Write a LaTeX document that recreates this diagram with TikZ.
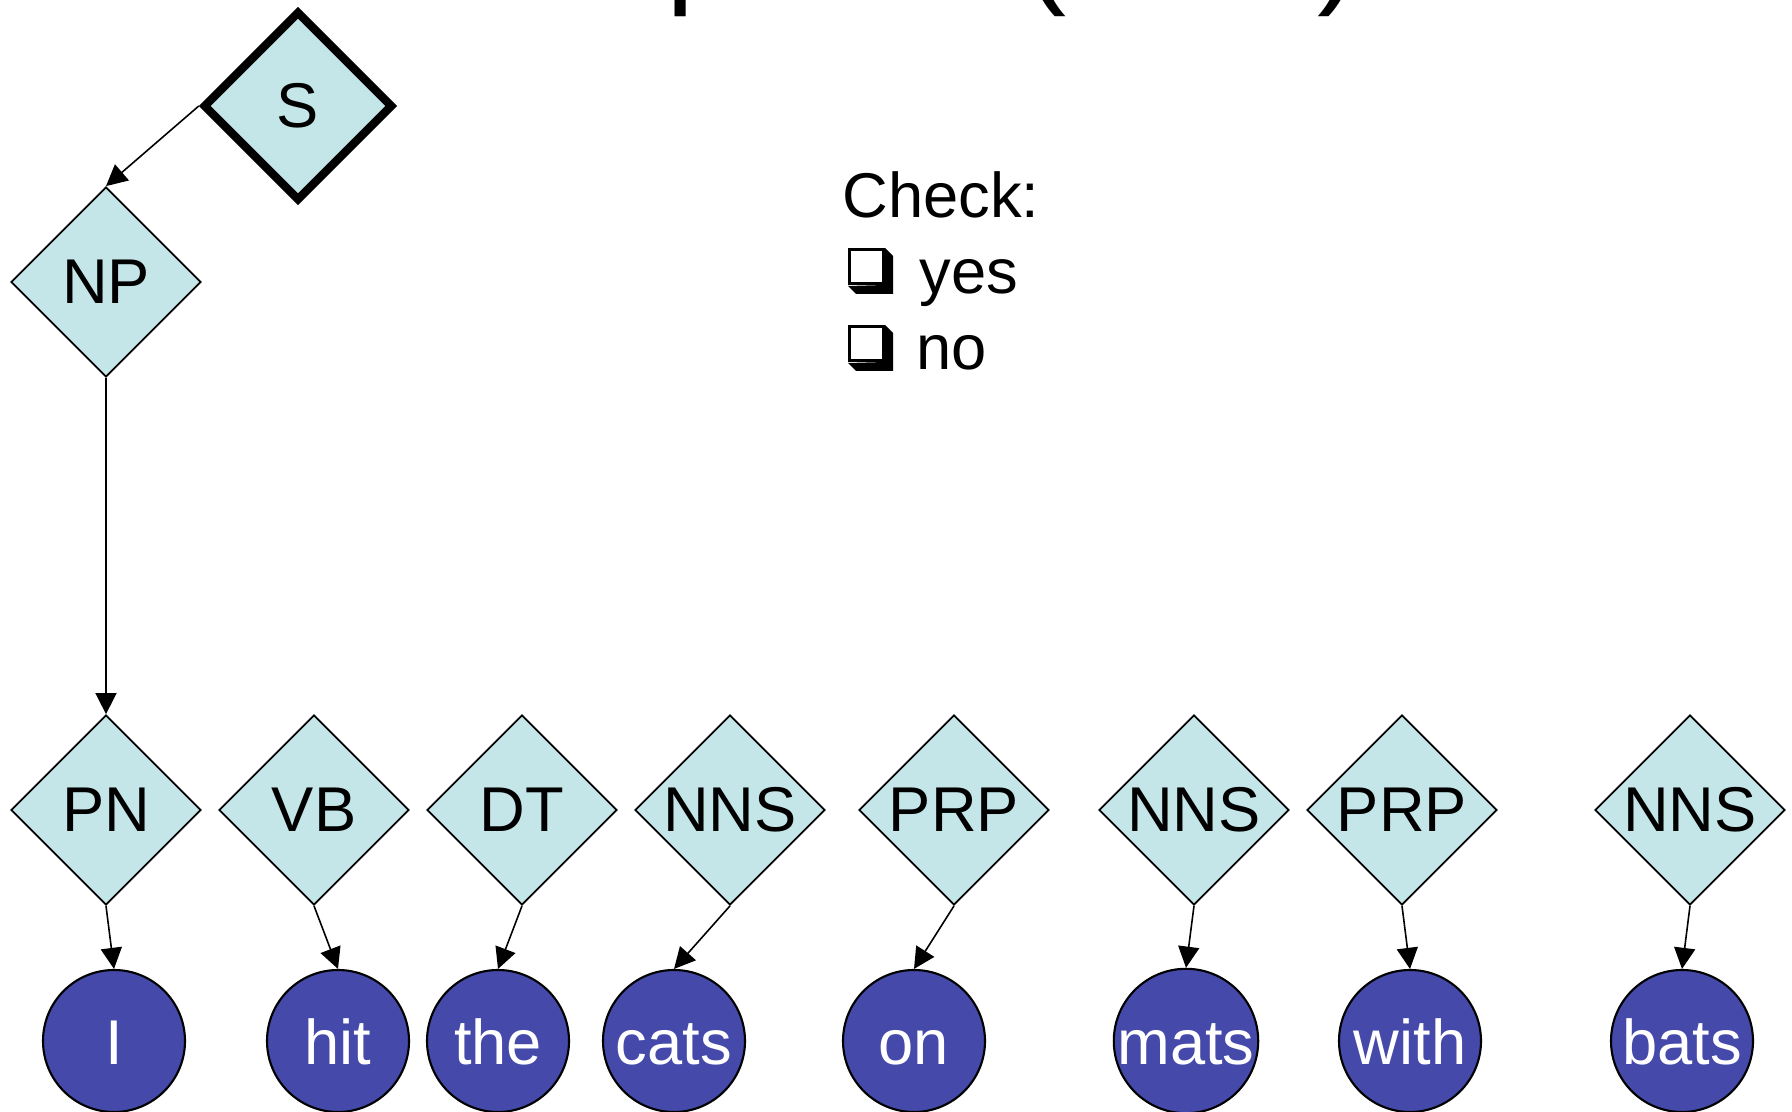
\documentclass[tikz,border=0pt]{standalone}
\usepackage{fontspec}
\setmainfont{Liberation Sans}
\usetikzlibrary{shapes.geometric,arrows.meta}
\definecolor{tagfill}{RGB}{197,230,233}
\definecolor{wordfill}{RGB}{69,73,170}
\tikzset{
  tag/.style={diamond,draw,fill=tagfill,line width=.5pt,minimum size=1.9cm,inner sep=0,font=\fontsize{18}{20}\selectfont},
  word/.style={circle,draw,fill=wordfill,line width=.6pt,minimum size=1.42cm,inner sep=0,text=white,text height=.46cm,text depth=0pt,font=\fontsize{18}{20}\selectfont},
  link/.style={-{Triangle[length=6pt,width=6pt]},line width=.45pt},
  big/.style={anchor=base west,inner sep=0,font=\fontsize{36}{40}\selectfont}
}
\begin{document}
\begin{tikzpicture}
\useasboundingbox (0,0) rectangle (17.92,-11.12);
\clip (0,0) rectangle (17.92,-11.12);
% heading, only the lowest bits reach into the frame
\node[big] (hp) at (6.66,.09) {p};
\node[big] (hl) at (10.24,.09) {(};
\node[big] (hr) at (13.17,.09) {)};
% tree
\node[tag,line width=2.4pt] (s) at (2.98,-1.06) {S};
\node[tag] (np) at (1.06,-2.82) {NP};
\node[tag] (pn) at (1.06,-8.10) {PN};
\node[tag] (vb) at (3.14,-8.10) {VB};
\node[tag] (dt) at (5.22,-8.10) {DT};
\node[tag] (nnsa) at (7.30,-8.10) {NNS};
\node[tag] (prpa) at (9.54,-8.10) {PRP};
\node[tag] (nnsb) at (11.94,-8.10) {NNS};
\node[tag] (prpb) at (14.02,-8.10) {PRP};
\node[tag] (nnsc) at (16.90,-8.10) {NNS};
% words
\node[word] (wi) at (1.14,-10.41) {I};
\node[word] (whit) at (3.38,-10.41) {hit};
\node[word] (wthe) at (4.98,-10.41) {the};
\node[word] (wcats) at (6.74,-10.41) {cats};
\node[word] (won) at (9.14,-10.41) {on};
\node[word] (wmats) at (11.86,-10.41) {mats};
\node[word] (wwith) at (14.10,-10.41) {with};
\node[word] (wbats) at (16.82,-10.41) {bats};
\draw[link] (s.west)--(np.north);
\draw[link] (np.south)--(pn.north);
\draw[link] (pn.south)--(wi.north);
\draw[link] (vb.south)--(whit.north);
\draw[link] (dt.south)--(wthe.north);
\draw[link] (nnsa.south)--(wcats.north);
\draw[link] (prpa.south)--(won.north);
\draw[link] (nnsb.south)--(wmats.north);
\draw[link] (prpb.south)--(wwith.north);
\draw[link] (nnsc.south)--(wbats.north);
% check list
\node[anchor=base west,inner sep=0,font=\fontsize{18}{20}\selectfont] (chk) at (8.42,-2.18) {Check:};
\node[anchor=base west,inner sep=0,font=\fontsize{18}{20}\selectfont] (yes) at (9.19,-2.94) {yes};
\node[anchor=base west,inner sep=0,font=\fontsize{18}{20}\selectfont] (no) at (9.16,-3.70) {no};
  \begin{scope}[xshift=8.48cm,yshift=-2.48cm]
\fill (.37,0)--(.45,-.08)--(.45,-.46)--(.08,-.46)--(0,-.38)--(.37,-.37)--cycle;
\draw[line width=.85pt,fill=white] (.015,-.015) rectangle (.355,-.355);
\end{scope}
  \begin{scope}[xshift=8.48cm,yshift=-3.25cm]
\fill (.37,0)--(.45,-.08)--(.45,-.46)--(.08,-.46)--(0,-.38)--(.37,-.37)--cycle;
\draw[line width=.85pt,fill=white] (.015,-.015) rectangle (.355,-.355);
\end{scope}
\end{tikzpicture}
\end{document}
